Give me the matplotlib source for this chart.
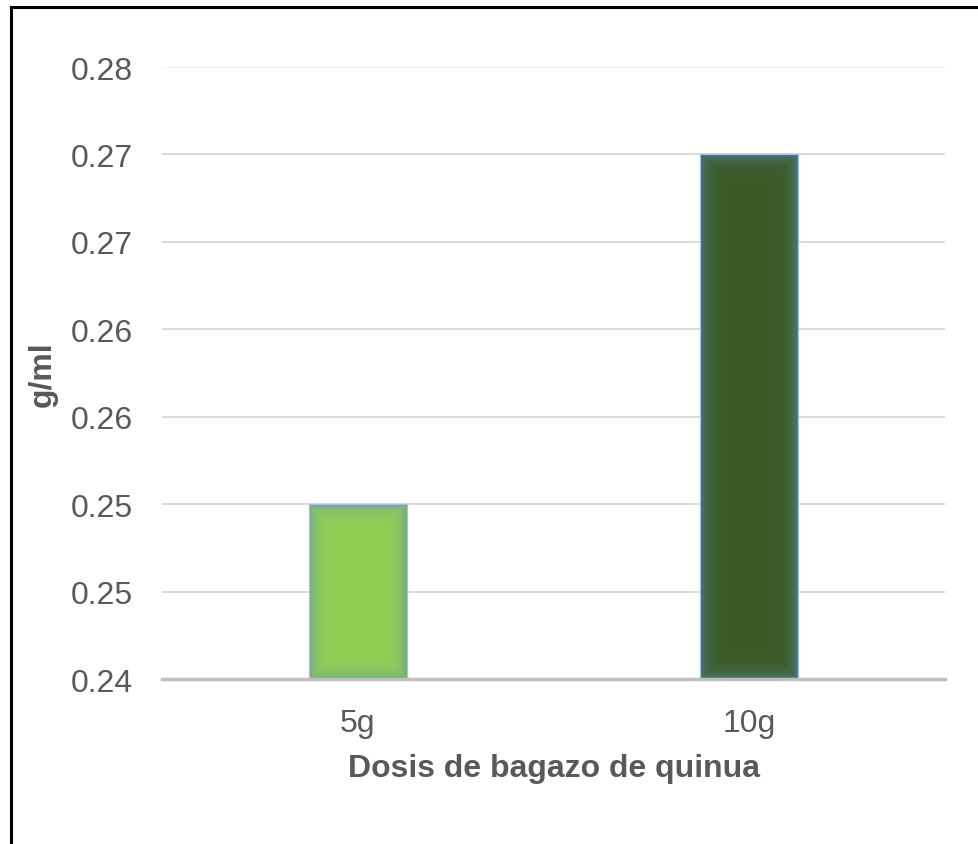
import numpy as np
import matplotlib
matplotlib.use("Agg")
import matplotlib.pyplot as plt
from matplotlib.patches import Rectangle
from matplotlib.colors import to_rgb

# Data
categories = ["5g", "10g"]
values = [0.250, 0.270]
bar_colors = ["#92D050", "#3B5A24"]
y_ticks = [0.240, 0.245, 0.250, 0.255, 0.260, 0.265, 0.270, 0.275]
y_tick_labels = ["0.24", "0.25", "0.25", "0.26", "0.26", "0.27", "0.27", "0.28"]
x_label = "Dosis de bagazo de quinua"
y_label = "g/ml"

plt.rcParams["font.family"] = ["Liberation Sans", "DejaVu Sans"]

W, H = 979, 845
fig = plt.figure(figsize=(W / 100, H / 100), dpi=100)
ax = fig.add_axes([162 / W, (H - 680) / H, (945 - 162) / W, (680 - 68) / H])

ymin, ymax = y_ticks[0], y_ticks[-1]
ax.set_ylim(ymin, ymax)
ax.set_xlim(-0.5, len(categories) - 0.5)

# gridlines
for t in y_ticks[1:]:
    col = "#F0F0F0" if t == y_ticks[-1] else "#D9D9D9"
    ax.axhline(t, color=col, lw=1.3, zorder=0)

bar_w = 0.25
x = np.arange(len(categories))
bars = ax.bar(x, [v - ymin for v in values], bottom=ymin, width=bar_w,
              color=bar_colors, edgecolor="#9DC3E6", linewidth=0.8, zorder=2)

# soft bluish glow along the bar edges
fig.canvas.draw()
glow = np.array(to_rgb("#5B8DB8"))
for b, c in zip(bars, bar_colors):
    x0, y0 = b.get_x(), b.get_y()
    x1, y1 = x0 + b.get_width(), y0 + b.get_height()
    p0 = ax.transData.transform((x0, y0))
    p1 = ax.transData.transform((x1, y1))
    wpx = int(round(abs(p1[0] - p0[0])))
    hpx = int(round(abs(p1[1] - p0[1])))
    xx = np.arange(wpx) + 0.5
    yy = np.arange(hpx) + 0.5
    dx = np.minimum(xx, wpx - xx)[None, :]
    dy = np.minimum(yy, hpx - yy)[:, None]
    d = np.minimum(dx, dy)
    a = 0.6 * np.exp(-d / 7.5)
    base = np.array(to_rgb(c))
    img = base[None, None, :] * (1 - a[..., None]) + glow[None, None, :] * a[..., None]
    ax.imshow(img, extent=(x0, x1, y0, y1), aspect="auto", zorder=2.5,
              interpolation="bilinear")
    ax.add_patch(Rectangle((x0, y0), x1 - x0, y1 - y0, fill=False,
                           edgecolor="#9DC3E6", lw=0.8, zorder=3))
ax.set_xlim(-0.5, len(categories) - 0.5)
ax.set_ylim(ymin, ymax)

for s in ["top", "right", "left"]:
    ax.spines[s].set_visible(False)
ax.spines["bottom"].set_color("#BFBFBF")
ax.spines["bottom"].set_linewidth(2.5)
ax.spines["bottom"].set_zorder(4)

ax.set_yticks(y_ticks)
ax.set_yticklabels(y_tick_labels)
ax.set_xticks(x)
ax.set_xticklabels(categories)
ax.tick_params(axis="both", length=0, labelsize=23, colors="#595959")
ax.tick_params(axis="y", pad=21)
ax.tick_params(axis="x", pad=21)

ax.set_xlabel(x_label, fontsize=23, fontweight="bold", color="#595959", labelpad=11)
ax.set_ylabel(y_label, fontsize=23, fontweight="bold", color="#595959", labelpad=9)

# outer frame
fig.add_artist(plt.Line2D([10.5 / W, 10.5 / W], [0, 1 - 8 / H], color="black", lw=2.2,
                          transform=fig.transFigure))
fig.add_artist(plt.Line2D([10.5 / W, 1], [1 - 8 / H, 1 - 8 / H], color="black", lw=2.2,
                          transform=fig.transFigure))

fig.savefig("out.png", dpi=100)
